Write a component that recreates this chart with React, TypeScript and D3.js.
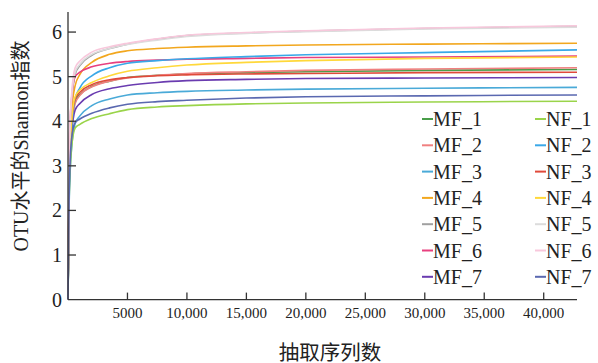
import React, { useEffect, useRef } from 'react';
import * as d3 from 'd3';

// sequencing depth (reads) at which each curve is sampled
const depths = [0, 100, 300, 600, 1000, 2000, 3500, 5000, 7500, 10000, 15000, 20000, 30000, 42800];

const mf1 = [0, 2.7, 3.9, 4.45, 4.6, 4.78, 4.9, 4.98, 5.03, 5.06, 5.09, 5.11, 5.14, 5.16];
const mf2 = [0, 2.6, 3.8, 4.4, 4.58, 4.77, 4.9, 4.97, 5.03, 5.07, 5.11, 5.14, 5.17, 5.2];
const mf3 = [0, 2.2, 3.4, 3.95, 4.12, 4.35, 4.5, 4.59, 4.64, 4.67, 4.7, 4.72, 4.74, 4.76];
const mf4 = [0, 2.8, 4.2, 4.8, 5.05, 5.32, 5.5, 5.58, 5.63, 5.66, 5.69, 5.71, 5.73, 5.75];
const mf5 = [0, 3.1, 4.4, 5.05, 5.25, 5.48, 5.63, 5.73, 5.84, 5.92, 5.98, 6.02, 6.08, 6.13];
const mf6 = [0, 3.4, 4.5, 5.0, 5.1, 5.22, 5.3, 5.34, 5.37, 5.39, 5.41, 5.43, 5.44, 5.46];
const mf7 = [0, 2.6, 3.7, 4.25, 4.4, 4.6, 4.73, 4.8, 4.87, 4.91, 4.94, 4.96, 4.97, 4.98];
const nf1 = [0, 2.3, 3.4, 3.85, 3.93, 4.06, 4.17, 4.26, 4.32, 4.35, 4.39, 4.41, 4.43, 4.45];
const nf2 = [0, 2.5, 3.8, 4.5, 4.75, 5.02, 5.2, 5.3, 5.36, 5.4, 5.45, 5.49, 5.54, 5.6];
const nf3 = [0, 2.8, 4.0, 4.5, 4.65, 4.82, 4.93, 4.98, 5.02, 5.04, 5.06, 5.07, 5.09, 5.1];
const nf4 = [0, 2.8, 4.0, 4.55, 4.7, 4.87, 5.02, 5.12, 5.2, 5.26, 5.32, 5.36, 5.41, 5.44];
const nf5 = [0, 3.2, 4.5, 5.1, 5.28, 5.5, 5.63, 5.72, 5.82, 5.9, 5.97, 6.01, 6.07, 6.11];
const nf6 = [0, 3.3, 4.6, 5.2, 5.35, 5.55, 5.67, 5.75, 5.85, 5.93, 5.99, 6.03, 6.09, 6.14];
const nf7 = [0, 2.4, 3.6, 3.97, 4.05, 4.18, 4.3, 4.38, 4.44, 4.47, 4.52, 4.55, 4.57, 4.59];

const mfNames = ['MF_1', 'MF_2', 'MF_3', 'MF_4', 'MF_5', 'MF_6', 'MF_7'];
const nfNames = ['NF_1', 'NF_2', 'NF_3', 'NF_4', 'NF_5', 'NF_6', 'NF_7'];
const mfValues = [mf1, mf2, mf3, mf4, mf5, mf6, mf7];
const nfValues = [nf1, nf2, nf3, nf4, nf5, nf6, nf7];

const mfColors = ['#4a9e4a', '#f08080', '#4aaad8', '#f2a71e', '#a0a0a0', '#e8407f', '#6a3cb0'];
const nfColors = ['#9ad44a', '#3aa8e8', '#e04a3a', '#ffd83a', '#dcdcdc', '#f8c8dc', '#5a68b0'];

const xTicks = [5000, 10000, 15000, 20000, 25000, 30000, 35000, 40000];
const yTicks = [0, 1, 2, 3, 4, 5, 6];

const W = 598;
const H = 363;
const serif = '"Liberation Serif", "DejaVu Serif", serif';
const cjk = '"Liberation Serif", "Noto Sans CJK SC", serif';

export default function App() {
  const svgRef = useRef<SVGSVGElement>(null);

  useEffect(() => {
    const svg = d3.select(svgRef.current);
    svg.selectAll('*').remove();

    const x = d3.scaleLinear().domain([0, 42800]).range([68, 577]);
    const y = d3.scaleLinear().domain([0, 6.45]).range([299.6, 12]);
    const axisColor = '#333';

    const line = d3.line<number>()
      .x((_, i) => x(depths[i]))
      .y(d => y(d))
      .curve(d3.curveMonotoneX);

    // MF_5 first so the light NF curves cover it on the right, as in the original
    const series = [
      { name: 'MF_5', values: mf5, color: mfColors[4] },
      ...mfNames.map((n, i) => ({ name: n, values: mfValues[i], color: mfColors[i] })).filter(s => s.name !== 'MF_5'),
      ...nfNames.map((n, i) => ({ name: n, values: nfValues[i], color: nfColors[i] })),
    ];

    const g = svg.append('g');
    series.forEach(s => {
      g.append('path')
        .attr('d', line(s.values))
        .attr('fill', 'none')
        .attr('stroke', s.color)
        .attr('stroke-width', 1.6);
    });

    // axes
    svg.append('line')
      .attr('x1', x(0)).attr('x2', x(0))
      .attr('y1', y(6.45)).attr('y2', y(0))
      .attr('stroke', axisColor).attr('stroke-width', 1.3);
    svg.append('line')
      .attr('x1', x(0)).attr('x2', 577)
      .attr('y1', y(0)).attr('y2', y(0))
      .attr('stroke', axisColor).attr('stroke-width', 1.3);

    yTicks.forEach(t => {
      if (t > 0) {
        svg.append('line')
          .attr('x1', x(0)).attr('x2', x(0) + 8)
          .attr('y1', y(t)).attr('y2', y(t))
          .attr('stroke', axisColor).attr('stroke-width', 1.3);
      }
      svg.append('text')
        .attr('x', 62).attr('y', y(t) + 7)
        .attr('text-anchor', 'end')
        .attr('font-family', serif).attr('font-size', 20)
        .attr('fill', '#222')
        .text(t);
    });

    xTicks.forEach(t => {
      svg.append('line')
        .attr('x1', x(t)).attr('x2', x(t))
        .attr('y1', y(0)).attr('y2', y(0) - 7)
        .attr('stroke', axisColor).attr('stroke-width', 1.3);
      svg.append('text')
        .attr('x', x(t)).attr('y', 318)
        .attr('text-anchor', 'middle')
        .attr('font-family', serif).attr('font-size', 15)
        .attr('fill', '#222')
        .text(t < 10000 ? String(t) : d3.format(',')(t));
    });

    // axis titles
    svg.append('text')
      .attr('x', 330).attr('y', 360)
      .attr('text-anchor', 'middle')
      .attr('font-family', cjk).attr('font-size', 20.5)
      .attr('fill', '#222')
      .text('抽取序列数');
    svg.append('text')
      .attr('transform', 'translate(28,146) rotate(-90)')
      .attr('text-anchor', 'middle')
      .attr('font-family', cjk).attr('font-size', 20)
      .attr('fill', '#222')
      .text('OTU水平的Shannon指数');

    // legend, two columns
    const cols = [
      { names: mfNames, colors: mfColors, x0: 422 },
      { names: nfNames, colors: nfColors, x0: 535 },
    ];
    cols.forEach(c => {
      c.names.forEach((n, i) => {
        const cy = 119 + i * 26.3;
        svg.append('line')
          .attr('x1', c.x0).attr('x2', c.x0 + 11)
          .attr('y1', cy).attr('y2', cy)
          .attr('stroke', c.colors[i]).attr('stroke-width', 2);
        svg.append('text')
          .attr('x', c.x0 + 11).attr('y', cy + 7)
          .attr('font-family', serif).attr('font-size', 20)
          .attr('fill', '#222')
          .text(n);
      });
    });
  }, []);

  return (
    <svg
      ref={svgRef}
      width={W}
      height={H}
      style={{ position: 'absolute', left: 0, top: 0, background: '#fff' }}
    />
  );
}
